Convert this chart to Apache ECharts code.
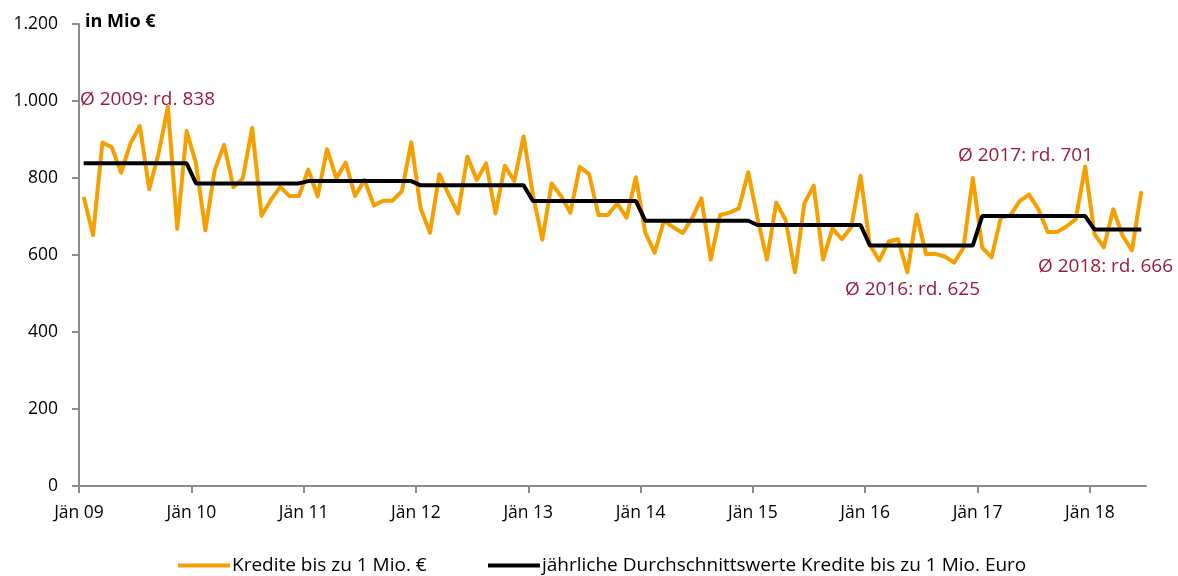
<!DOCTYPE html>
<html>
<head>
<meta charset="utf-8">
<script src="https://cdn.jsdelivr.net/npm/echarts@6/dist/echarts.min.js"></script>
<style>
html,body{margin:0;padding:0;background:#fff;}
#chart{width:1178px;height:576px;}
</style>
</head>
<body>
<div id="chart"></div>
<script>
// ---- data ----
const xTickLabels = ['Jän 09','Jän 10','Jän 11','Jän 12','Jän 13','Jän 14','Jän 15','Jän 16','Jän 17','Jän 18'];
const yTickLabels = ['0','200','400','600','800','1.000','1.200'];
// monthly values Jan 2009 - Jun 2018 (in Mio €)
const kredite2009 = [751,652,892,880,814,890,935,771,864,985,668,922];
const kredite2010 = [838,664,821,886,776,799,930,702,743,777,753,753];
const kredite2011 = [822,752,875,799,840,753,795,729,741,741,766,893];
const kredite2012 = [721,658,810,757,708,856,795,838,708,832,792,908];
const kredite2013 = [756,640,786,753,710,829,810,704,704,734,697,802];
const kredite2014 = [658,606,689,672,657,695,747,588,704,710,721,815];
const kredite2015 = [695,588,736,691,555,734,780,588,669,641,672,806];
const kredite2016 = [626,586,635,641,555,705,602,603,596,580,619,800];
const kredite2017 = [619,594,698,703,740,757,719,660,660,674,693,830];
const kredite2018 = [654,620,719,650,612,766];
const yearlyAverages = [838,786,792,781,740,689,678,625,701,666];
const annotationTexts = ['Ø 2009: rd. 838','Ø 2016: rd. 625','Ø 2017: rd. 701','Ø 2018: rd. 666'];
const seriesNames = ['Kredite bis zu 1 Mio. €','jährliche Durchschnittswerte Kredite bis zu 1 Mio. Euro'];

const years = [kredite2009,kredite2010,kredite2011,kredite2012,kredite2013,kredite2014,kredite2015,kredite2016,kredite2017,kredite2018];
const monthly = [];
const avgLine = [];
let idx = 0;
years.forEach((arr, y) => {
  arr.forEach(v => {
    monthly.push([idx + 0.5, v]);
    avgLine.push([idx + 0.5, yearlyAverages[y]]);
    idx++;
  });
});
const nMonths = idx;

const FONT = "'Open Sans', sans-serif";
const AXIS = '#8c8c8c';
const RED = '#9b1b3b';
const ORANGE = '#f5a000';

const legendText = {fontSize: 19, fontFamily: FONT, color: '#000', padding: [0,0,0,-3]};

const chart = echarts.init(document.getElementById('chart'), null, {renderer: 'canvas'});
chart.setOption({
  animation: false,
  backgroundColor: '#fff',
  textStyle: {fontFamily: FONT},
  grid: {left: 79, right: 32, top: 24, bottom: 90, containLabel: false},
  xAxis: {
    type: 'value', min: 0, max: nMonths, interval: 12,
    splitLine: {show: false},
    axisLine: {show: true, lineStyle: {color: AXIS, width: 2}},
    axisTick: {show: true, length: 7, lineStyle: {color: AXIS, width: 2},
      customValues: xTickLabels.map((_, i) => i * 12)},
    axisLabel: {
      customValues: xTickLabels.map((_, i) => i * 12),
      formatter: v => xTickLabels[Math.round(v / 12)] || '',
      color: '#000', fontSize: 17.5, fontFamily: FONT, margin: 18
    }
  },
  yAxis: {
    type: 'value', min: 0, max: 1200, interval: 200,
    splitLine: {show: false},
    axisLine: {show: true, lineStyle: {color: AXIS, width: 2}},
    axisTick: {show: true, inside: false, length: 7, lineStyle: {color: AXIS, width: 2}},
    axisLabel: {
      formatter: v => yTickLabels[Math.round(v / 200)],
      color: '#000', fontSize: 17.5, fontFamily: FONT, margin: 21
    }
  },
  legend: [
    {
      left: 173, top: 551,
      itemWidth: 52, itemHeight: 4, icon: 'rect',
      textStyle: legendText,
      data: [seriesNames[0]]
    },
    {
      left: 483, top: 551,
      itemWidth: 52, itemHeight: 4, icon: 'rect',
      textStyle: legendText,
      data: [seriesNames[1]]
    }
  ],
  series: [
    {
      name: seriesNames[0], type: 'line', data: monthly,
      showSymbol: false, symbol: 'none',
      lineStyle: {color: ORANGE, width: 4, join: 'round'},
      itemStyle: {color: ORANGE},
      z: 2
    },
    {
      name: seriesNames[1], type: 'line', data: avgLine,
      showSymbol: false, symbol: 'none',
      lineStyle: {color: '#000', width: 4},
      itemStyle: {color: '#000'},
      z: 3
    }
  ],
  graphic: [
    {type: 'text', left: 85, top: 13, style: {text: 'in Mio €', font: "bold 18px " + FONT, fill: '#000'}},
    {type: 'text', left: 80, top: 90, style: {text: annotationTexts[0], font: "19px " + FONT, fill: RED}},
    {type: 'text', left: 845, top: 280, style: {text: annotationTexts[1], font: "19px " + FONT, fill: RED}},
    {type: 'text', left: 958, top: 146, style: {text: annotationTexts[2], font: "19px " + FONT, fill: RED}},
    {type: 'text', left: 1038, top: 257, style: {text: annotationTexts[3], font: "19px " + FONT, fill: RED}}
  ]
});
</script>
</body>
</html>
